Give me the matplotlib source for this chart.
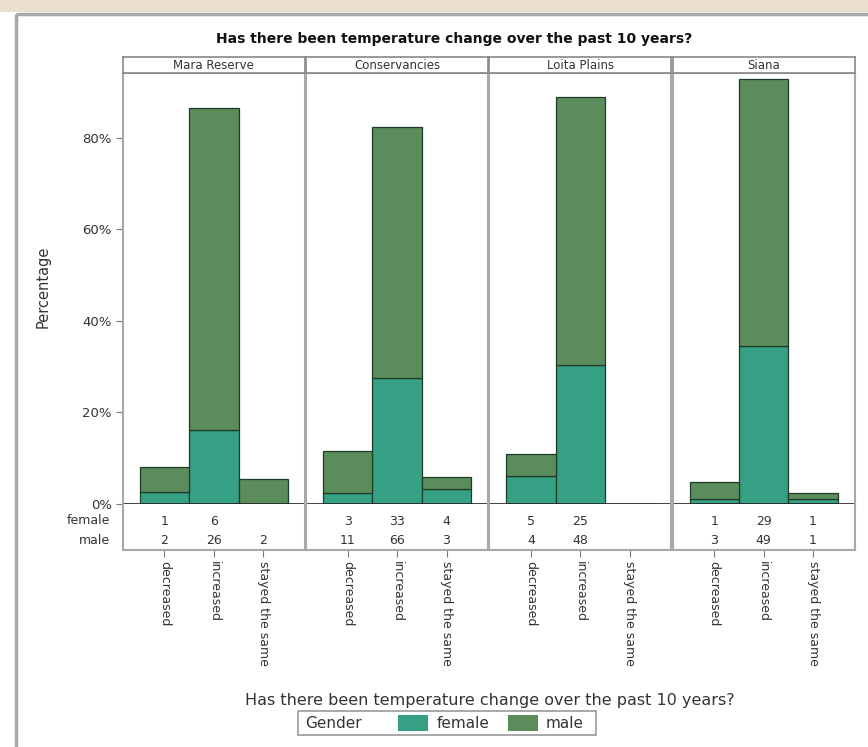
import numpy as np
import matplotlib.pyplot as plt
from matplotlib.patches import Rectangle

plt.rcParams['font.family'] = ['DejaVu Sans']

# data
regions = ['Mara Reserve', 'Conservancies', 'Loita Plains', 'Siana']
answers = ['decreased', 'increased', 'stayed the same']
female = [[1, 6, 0], [3, 33, 4], [5, 25, 0], [1, 29, 1]]
male = [[2, 26, 2], [11, 66, 3], [4, 48, 0], [3, 49, 1]]
title = 'Has there been temperature change over the past 10 years?'

c_female = '#35a084'
c_male = '#5b8c5b'
c_edge = '#1e3b28'
c_frame = '#a8a8a8'
c_text = '#333333'

W, H = 868, 747
fig = plt.figure(figsize=(W / 100, H / 100), dpi=100)

# overlay in pixel coords for decoration
bg = fig.add_axes([0, 0, 1, 1])
bg.set_xlim(0, W)
bg.set_ylim(H, 0)
bg.axis('off')
bg.add_patch(Rectangle((0, 0), W, 12, color='#eadfd0', lw=0))
bg.add_patch(Rectangle((16, 14), W, H, fill=False, ec=c_frame, lw=2.5))

left, right = 123, 856
pw = (right - left) / 4
y_top, y_zero, y_tab = 73, 504, 550
x = np.arange(len(answers))

for i, reg in enumerate(regions):
    x0 = left + i * pw
    f = np.array(female[i])
    m = np.array(male[i])
    tot = f.sum() + m.sum()
    fp = f / tot * 100
    mp = m / tot * 100

    ax = fig.add_axes([x0 / W, (H - y_zero) / H, (pw - 1.5) / W, (y_zero - y_top) / H])
    ax.bar(x, fp, width=1, color=c_female, edgecolor=c_edge, lw=0.9)
    ax.bar(x, mp, width=1, bottom=fp, color=c_male, edgecolor=c_edge, lw=0.9)
    ax.set_xlim(-0.84, 2.84)
    ax.set_ylim(0, 94.2)
    ax.set_xticks([])
    for s in ['left', 'right', 'top']:
        ax.spines[s].set_color(c_frame)
        ax.spines[s].set_linewidth(1.5)
    ax.spines['bottom'].set_color('#222222')
    ax.spines['bottom'].set_linewidth(1.2)
    if i == 0:
        ax.set_yticks([0, 20, 40, 60, 80])
        ax.set_yticklabels(['0%', '20%', '40%', '60%', '80%'])
        ax.tick_params(axis='y', length=5, color='#777777', labelsize=9.5,
                       labelcolor=c_text, pad=3)
    else:
        ax.set_yticks([])

    # strip
    sx = fig.add_axes([x0 / W, (H - y_top) / H, (pw - 1.5) / W, 16 / H])
    sx.set_xticks([])
    sx.set_yticks([])
    for s in sx.spines.values():
        s.set_color('#888888')
        s.set_linewidth(1.2)
    sx.text(0.5, 0.45, reg, ha='center', va='center', fontsize=8.5, color=c_text,
            transform=sx.transAxes)

    # count table
    tx = fig.add_axes([x0 / W, (H - y_tab) / H, (pw - 1.5) / W, (y_tab - y_zero) / H])
    tx.set_xlim(-0.84, 2.84)
    tx.set_ylim(0, 1)
    tx.set_yticks([])
    tx.spines['top'].set_visible(False)
    for s in ['left', 'right', 'bottom']:
        tx.spines[s].set_color(c_frame)
        tx.spines[s].set_linewidth(1.5)
    for j in range(len(answers)):
        if f[j] > 0:
            tx.text(x[j], 0.62, str(f[j]), ha='center', va='center', fontsize=9, color=c_text)
        if m[j] > 0:
            tx.text(x[j], 0.2, str(m[j]), ha='center', va='center', fontsize=9, color=c_text)
    tx.set_xticks(x)
    tx.set_xticklabels(answers, rotation=-90, fontsize=9, color=c_text)
    tx.tick_params(axis='x', length=5, color='#777777', pad=3)

# row labels of table
bg.text(110, 521, 'female', ha='right', va='center', fontsize=9, color=c_text)
bg.text(110, 541, 'male', ha='right', va='center', fontsize=9, color=c_text)

bg.text(454, 39, title, ha='center', va='center', fontsize=10, fontweight='bold', color='#111111')
bg.text(43, 287, 'Percentage', ha='center', va='center', rotation=90, fontsize=10.5, color=c_text)
bg.text(490, 700, title, ha='center', va='center', fontsize=11.5, color=c_text)

# legend
bg.add_patch(Rectangle((298, 711), 298, 24, fill=False, ec='#999999', lw=1.2))
bg.text(305, 723, 'Gender', ha='left', va='center', fontsize=11, color=c_text)
bg.add_patch(Rectangle((398, 715), 30, 16, color=c_female, lw=0))
bg.text(437, 723, 'female', ha='left', va='center', fontsize=11, color=c_text)
bg.add_patch(Rectangle((508, 715), 30, 16, color=c_male, lw=0))
bg.text(546, 723, 'male', ha='left', va='center', fontsize=11, color=c_text)

fig.savefig('out.png', dpi=100)
